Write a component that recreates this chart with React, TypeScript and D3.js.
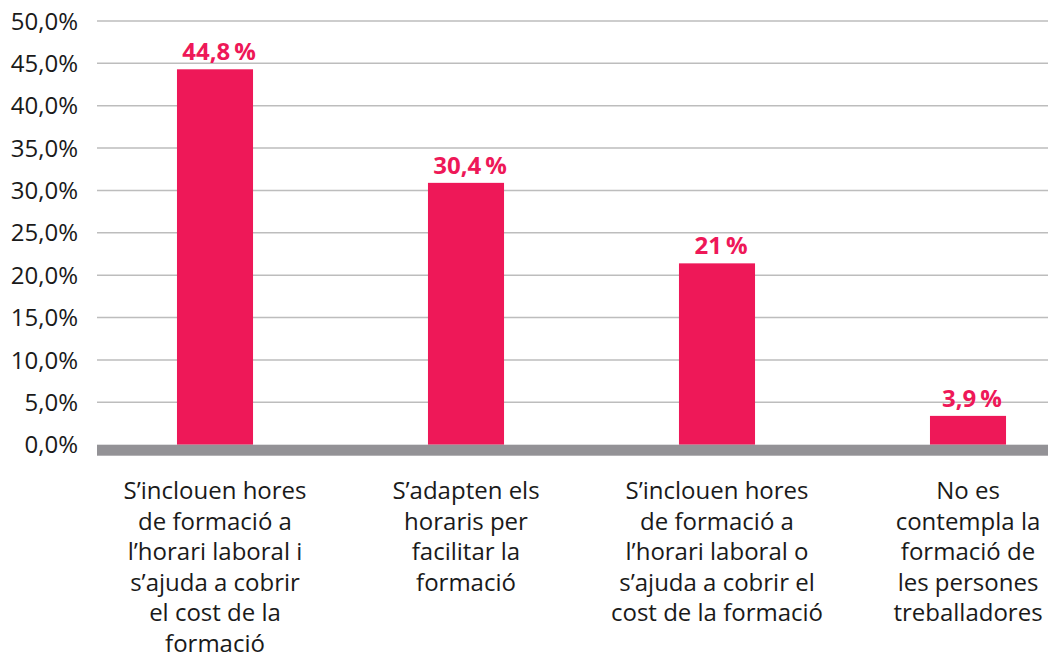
import React from "react";
import * as d3 from "d3";

const categories: string[][] = [
  ["S\u2019inclouen hores", "de formació a", "l\u2019horari laboral i", "s\u2019ajuda a cobrir", "el cost de la", "formació"],
  ["S\u2019adapten els", "horaris per", "facilitar la", "formació"],
  ["S\u2019inclouen hores", "de formació a", "l\u2019horari laboral o", "s\u2019ajuda a cobrir el", "cost de la formació"],
  ["No es", "contempla la", "formació de", "les persones", "treballadores"],
];
const barValues: number[] = [44.3, 30.9, 21.4, 3.4];
const valueLabels: string[] = ["44,8\u2009%", "30,4\u2009%", "21\u2009%", "3,9\u2009%"];
const yTicks: number[] = [0, 5, 10, 15, 20, 25, 30, 35, 40, 45, 50];

const W = 1048;
const H = 660;
const FONT = "'Open Sans', 'Noto Sans', sans-serif";
const PINK = "#EE1858";

export default function App() {
  const y = d3.scaleLinear().domain([0, 50]).range([444.7, 21]);
  const x = d3
    .scaleBand<number>()
    .domain(categories.map((_, i) => i))
    .range([89.5, 1093.5])
    .paddingInner(0.697)
    .paddingOuter(0.3485);
  const fmt = (v: number) => d3.format(".1f")(v).replace(".", ",") + "%";
  const gridX0 = 97;
  const gridX1 = W;

  return (
    <svg
      width={W}
      height={H}
      style={{ position: "absolute", left: 0, top: 0, background: "#fff" }}
      fontFamily={FONT}
    >
      {yTicks.map((t) => (
        <g key={t}>
          {t > 0 && (
            <line x1={gridX0} x2={gridX1} y1={y(t)} y2={y(t)} stroke="#bdbdbd" strokeWidth={1.5} />
          )}
          <text x={78} y={y(t)} dy="0.36em" textAnchor="end" fontSize={24} fill="#1a1a1a">
            {fmt(t)}
          </text>
        </g>
      ))}
      {barValues.map((v, i) => (
        <g key={i}>
          <rect x={x(i)!} y={y(v)} width={x.bandwidth()} height={y(0) - y(v)} fill={PINK} />
          <text
            x={x(i)! + x.bandwidth() / 2 + 4}
            y={y(v) - 9}
            textAnchor="middle"
            fontSize={24}
            fontWeight={700}
            fill={PINK}
          >
            {valueLabels[i]}
          </text>
        </g>
      ))}
      <rect x={gridX0} y={y(0)} width={gridX1 - gridX0} height={11} fill="#939296" />
      {categories.map((lines, i) => (
        <text
          key={i}
          x={x(i)! + x.bandwidth() / 2}
          y={499}
          textAnchor="middle"
          fontSize={24}
          fill="#1a1a1a"
        >
          {lines.map((l, j) => (
            <tspan key={j} x={x(i)! + x.bandwidth() / 2} dy={j === 0 ? 0 : 30.6}>
              {l}
            </tspan>
          ))}
        </text>
      ))}
    </svg>
  );
}
